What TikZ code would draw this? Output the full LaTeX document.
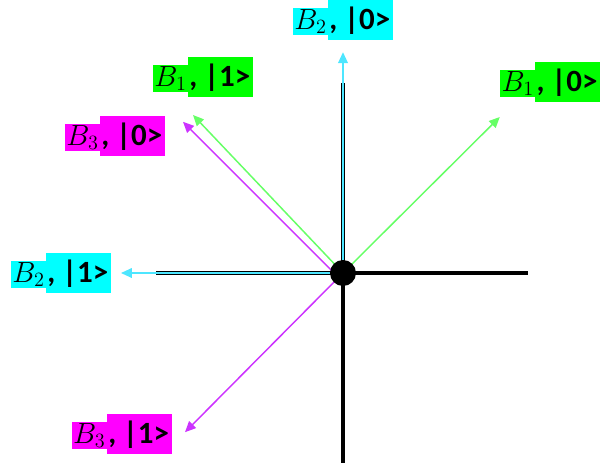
\documentclass[tikz,border=0pt]{standalone}
\usepackage{fontspec}
\setsansfont{Carlito}
\usepackage{tikz}
\usetikzlibrary{arrows.meta}
\definecolor{hlcyan}{HTML}{00FFFF}
\definecolor{hlgreen}{HTML}{00FF00}
\definecolor{hlmag}{HTML}{FF00FF}
\definecolor{lncyan}{HTML}{4DE6FF}
\definecolor{lngreen}{HTML}{66FF66}
\definecolor{lnmag}{HTML}{CC33FF}
\newcommand{\hlbox}[2]{{\setlength{\fboxsep}{1pt}\colorbox{#1}{#2}}}
\newcommand{\basislab}[3]{%
  \hlbox{#1}{$B_{#2}$}\hlbox{#1}{\sffamily\bfseries\rule[-0.3em]{0pt}{1.2em}, |#3>\kern1pt}}
\tikzset{
  axisbar/.style  = {line width=3.4pt,black},
  basisarr/.style = {-{Triangle[length=2.7mm,width=2.4mm]},line width=1.05pt},
  hub/.style      = {circle,fill=black,minimum size=6.5mm,inner sep=0pt},
  lab/.style      = {inner sep=0pt,font=\fontsize{22}{25}\selectfont}
}
\begin{document}
\begin{tikzpicture}
  \useasboundingbox (-8.575,-4.825) rectangle (6.825,6.825);
  \coordinate (c) at (0,0);
  \coordinate (c-off) at (-0.22,0);
  \coordinate (ax-n) at (0,4.75);
  \coordinate (ax-s) at (0,-4.75);
  \coordinate (ax-e) at (4.62,0);
  \coordinate (ax-w) at (-4.68,0);
  \foreach \e in {n,s,e,w} { \draw[axisbar] (c) -- (ax-\e); }
  % basis vectors
  \coordinate (b2-0) at (0,5.52);
  \coordinate (b2-1) at (-5.55,0);
  \coordinate (b1-0) at (3.92,3.9);
  \coordinate (b1-1) at (-3.75,3.95);
  \coordinate (b3-0) at (-4.0,3.78);
  \coordinate (b3-1) at (-3.95,-3.98);
  \draw[basisarr,lncyan] (c) -- (b2-0);
  \draw[basisarr,lncyan] (c) -- (b2-1);
  \draw[basisarr,lngreen] (c) -- (b1-0);
  \draw[basisarr,lngreen] (c) -- (b1-1);
  \draw[basisarr,lnmag] (c-off) -- (b3-0);
  \draw[basisarr,lnmag] (c) -- (b3-1);
  \node[hub] (o) at (c) {};
  % labels
  \node[lab] (l-b2-0) at (0,6.33) {\basislab{hlcyan}{2}{0}};
  \node[lab] (l-b2-1) at (-7.05,0) {\basislab{hlcyan}{2}{1}};
  \node[lab] (l-b1-0) at (5.18,4.78) {\basislab{hlgreen}{1}{0}};
  \node[lab] (l-b1-1) at (-3.5,4.9) {\basislab{hlgreen}{1}{1}};
  \node[lab] (l-b3-0) at (-5.7,3.43) {\basislab{hlmag}{3}{0}};
  \node[lab] (l-b3-1) at (-5.53,-4.03) {\basislab{hlmag}{3}{1}};
\end{tikzpicture}
\end{document}
